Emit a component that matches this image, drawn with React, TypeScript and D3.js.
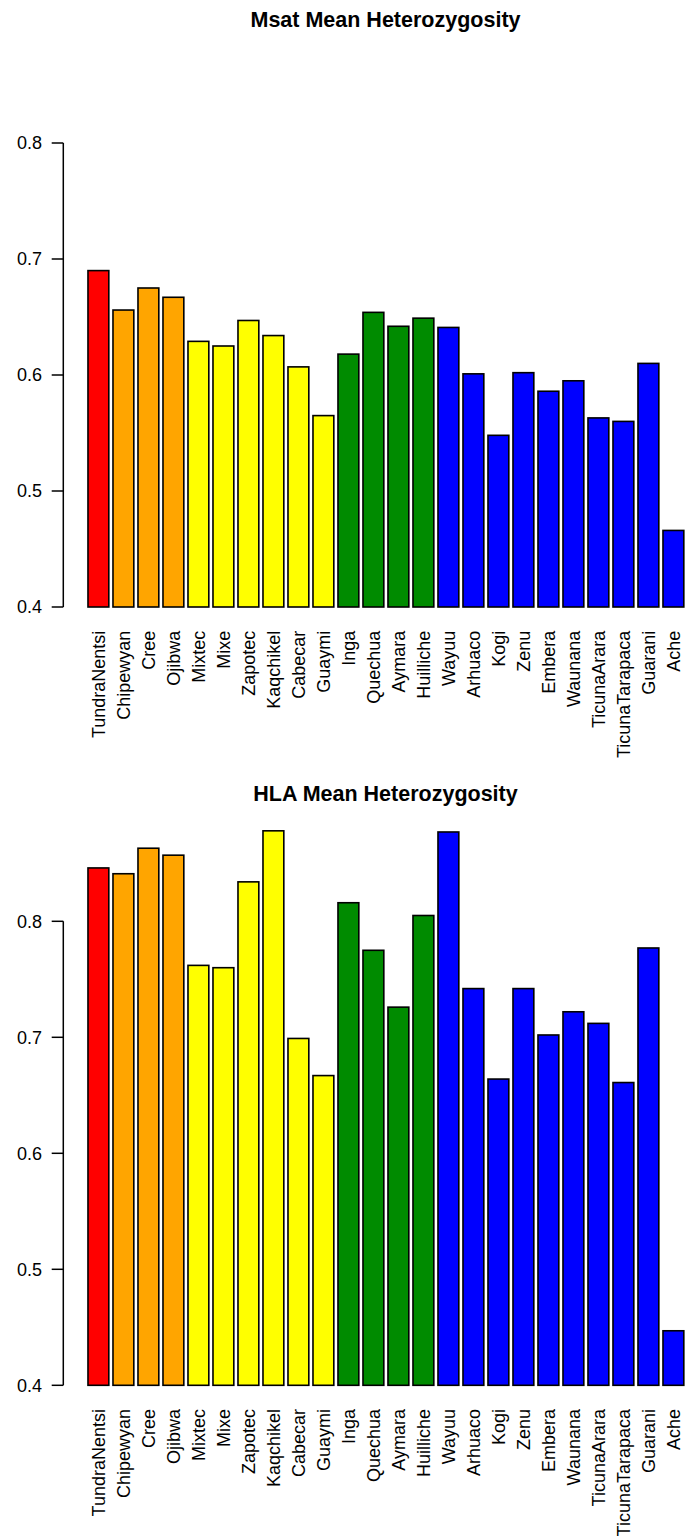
import React from "react";
import * as d3 from "d3";

const WIDTH = 686;
const HEIGHT = 1538;
const FONT = "'Liberation Sans', Arial, Helvetica, sans-serif";

const populations = [
  "TundraNentsi", "Chipewyan", "Cree", "Ojibwa", "Mixtec", "Mixe", "Zapotec",
  "Kaqchikel", "Cabecar", "Guaymi", "Inga", "Quechua", "Aymara", "Huilliche",
  "Wayuu", "Arhuaco", "Kogi", "Zenu", "Embera", "Waunana", "TicunaArara",
  "TicunaTarapaca", "Guarani", "Ache",
];

const groups = [
  "siberia", "north", "north", "north", "meso", "meso", "meso",
  "meso", "meso", "meso", "andes", "andes", "andes", "andes",
  "lowland", "lowland", "lowland", "lowland", "lowland", "lowland", "lowland",
  "lowland", "lowland", "lowland",
];

const msatValues = [
  0.690, 0.656, 0.675, 0.667, 0.629, 0.625, 0.647,
  0.634, 0.607, 0.565, 0.618, 0.654, 0.642, 0.649,
  0.641, 0.601, 0.548, 0.602, 0.586, 0.595, 0.563,
  0.560, 0.610, 0.466,
];

const hlaValues = [
  0.846, 0.841, 0.863, 0.857, 0.762, 0.760, 0.834,
  0.878, 0.699, 0.667, 0.816, 0.775, 0.726, 0.805,
  0.877, 0.742, 0.664, 0.742, 0.702, 0.722, 0.712,
  0.661, 0.777, 0.447,
];

const yTicks = [0.4, 0.5, 0.6, 0.7, 0.8];

const colour = d3
  .scaleOrdinal<string, string>()
  .domain(["siberia", "north", "meso", "andes", "lowland"])
  .range(["#FF0000", "#FFA500", "#FFFF00", "#008B00", "#0000FF"]);

const xScale = d3
  .scaleBand<string>()
  .domain(populations)
  .range([85.9, 685.9])
  .paddingInner(1 / 6)
  .paddingOuter(1 / 12);

const AXIS_X = 63.3;
const FONT_SIZE = 18;

type PanelProps = {
  title: string;
  titleY: number;
  values: number[];
  yBottom: number;
  yTop: number;
};

const Panel = ({ title, titleY, values, yBottom, yTop }: PanelProps) => {
  const yScale = d3.scaleLinear().domain([0.4, 0.8]).range([yBottom, yTop]);
  const base = yScale(0.4);
  const labelY = base + 23.7;

  return (
    <g>
      <text
        x={385.5}
        y={titleY}
        textAnchor="middle"
        fontFamily={FONT}
        fontWeight="bold"
        fontSize={21.5}
      >
        {title}
      </text>

      {values.map((v, i) => {
        const name = populations[i];
        const x = xScale(name) ?? 0;
        return (
          <rect
            key={name}
            x={x}
            width={xScale.bandwidth()}
            y={yScale(v)}
            height={base - yScale(v)}
            fill={colour(groups[i])}
            stroke="#000"
            strokeWidth={1.6}
          />
        );
      })}

      <line
        x1={AXIS_X}
        x2={AXIS_X}
        y1={yScale(0.4)}
        y2={yScale(0.8)}
        stroke="#000"
        strokeWidth={1.5}
      />
      {yTicks.map((t) => (
        <g key={t}>
          <line
            x1={AXIS_X - 11.6}
            x2={AXIS_X}
            y1={yScale(t)}
            y2={yScale(t)}
            stroke="#000"
            strokeWidth={1.5}
          />
          <text
            x={42}
            y={yScale(t)}
            dy="0.36em"
            textAnchor="end"
            fontFamily={FONT}
            fontSize={FONT_SIZE}
          >
            {d3.format(".1f")(t)}
          </text>
        </g>
      ))}

      {populations.map((name) => {
        const cx = (xScale(name) ?? 0) + xScale.bandwidth() / 2;
        return (
          <text
            key={name}
            transform={`translate(${cx},${labelY}) rotate(-90)`}
            dy="0.36em"
            textAnchor="end"
            fontFamily={FONT}
            fontSize={FONT_SIZE}
          >
            {name}
          </text>
        );
      })}
    </g>
  );
};

export default function App() {
  return (
    <div style={{ position: "absolute", left: 0, top: 0 }}>
      <svg width={WIDTH} height={HEIGHT} style={{ display: "block", background: "#fff" }}>
        <Panel
          title="Msat Mean Heterozygosity"
          titleY={26.7}
          values={msatValues}
          yBottom={607}
          yTop={143}
        />
        <Panel
          title="HLA Mean Heterozygosity"
          titleY={801}
          values={hlaValues}
          yBottom={1385.3}
          yTop={921.3}
        />
      </svg>
    </div>
  );
}
